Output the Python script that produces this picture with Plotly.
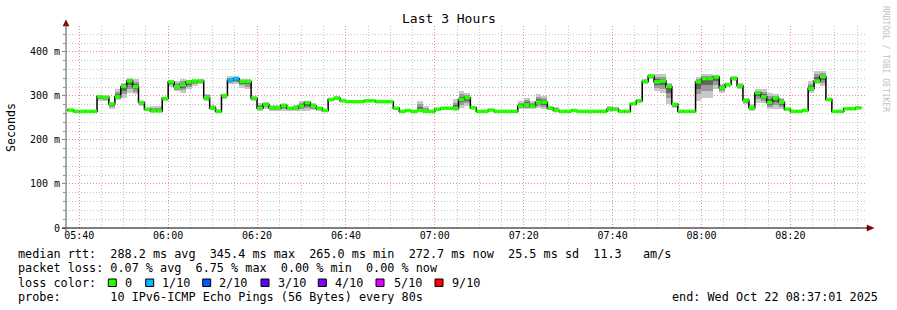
import plotly.graph_objects as go
import pandas as pd

# ---------------- data ----------------
start_time = "2025-10-22 05:37:20"
step_seconds = 80
range_start = "2025-10-22 05:37:01"
range_end = "2025-10-22 08:37:01"

median_ms = [
    268, 265, 265, 265, 265, 298, 297, 282, 298, 321,
    334, 321, 285, 270, 266, 266, 294, 332, 321, 325,
    332, 334, 334, 296, 272, 265, 301, 336, 339, 333,
    333, 295, 272, 281, 273, 273, 279, 272, 272, 277,
    285, 277, 272, 267, 292, 295, 289, 287, 287, 287,
    289, 289, 287, 287, 287, 272, 265, 267, 265, 267,
    265, 265, 270, 272, 272, 272, 292, 296, 273, 265,
    265, 268, 265, 265, 265, 265, 277, 280, 277, 286,
    286, 272, 267, 265, 265, 267, 265, 265, 265, 265,
    265, 270, 270, 265, 265, 282, 289, 333, 345, 332,
    334, 321, 281, 265, 265, 265, 332, 339, 339, 343,
    319, 326, 340, 323, 290, 273, 307, 298, 285, 295,
    286, 270, 265, 265, 267, 317, 334, 344, 292, 265,
    265, 271, 271, 273,
]
smoke_lo_ms = [
    266, 264, 264, 264, 264, 289, 289, 271, 290, 296,
    307, 304, 277, 266, 266, 266, 289, 321, 311, 307,
    315, 323, 327, 289, 270, 263, 294, 327, 327, 319,
    315, 289, 266, 270, 266, 266, 266, 266, 266, 266,
    266, 268, 266, 264, 290, 292, 287, 285, 285, 285,
    287, 287, 285, 285, 285, 270, 263, 265, 263, 264,
    264, 263, 266, 270, 270, 266, 273, 277, 270, 263,
    263, 266, 263, 263, 263, 263, 270, 270, 270, 273,
    270, 268, 266, 263, 263, 264, 263, 263, 263, 263,
    263, 264, 266, 263, 263, 279, 285, 327, 338, 311,
    307, 281, 273, 263, 263, 263, 289, 296, 296, 315,
    307, 321, 334, 315, 281, 266, 285, 285, 270, 270,
    270, 266, 263, 263, 264, 307, 327, 323, 289, 263,
    263, 268, 268, 270,
]
smoke_hi_ms = [
    270, 267, 267, 267, 267, 300, 299, 285, 315, 330,
    340, 338, 289, 273, 277, 277, 296, 336, 334, 339,
    336, 336, 338, 304, 279, 270, 304, 345, 345, 338,
    338, 300, 285, 286, 280, 280, 282, 276, 280, 289,
    289, 283, 276, 270, 296, 299, 293, 289, 289, 289,
    291, 291, 289, 289, 289, 275, 267, 270, 267, 289,
    277, 267, 273, 275, 275, 292, 311, 307, 277, 267,
    267, 270, 267, 267, 267, 267, 289, 296, 289, 304,
    300, 277, 275, 267, 267, 270, 267, 267, 267, 267,
    267, 277, 274, 267, 267, 285, 293, 338, 349, 349,
    349, 330, 285, 267, 267, 267, 342, 349, 349, 347,
    327, 330, 345, 330, 296, 281, 315, 315, 307, 304,
    296, 273, 267, 267, 270, 334, 357, 357, 296, 267,
    267, 274, 274, 277,
]
# steps with packet loss (index -> lost pings out of 10)
lossy_steps = {27: 1, 28: 1}

loss_labels = ["0", "1/10", "2/10", "3/10", "4/10", "5/10", "9/10"]
loss_colors = ["#26ff00", "#00b8ff", "#0059ff", "#5e00ff", "#7e00ff", "#dd00ff", "#ff0000"]

y_tick_vals = [0, 100, 200, 300, 400]
y_tick_text = ["0", "100 m", "200 m", "300 m", "400 m"]

title_text = "Last 3 Hours"
y_title = "Seconds"
stats_lines = [
    "median rtt:  288.2 ms avg  345.4 ms max  265.0 ms min  272.7 ms now  25.5 ms sd  11.3   am/s",
    "packet loss: 0.07 % avg  6.75 % max  0.00 % min  0.00 % now",
    "loss color:",
    "probe:       10 IPv6-ICMP Echo Pings (56 Bytes) every 80s",
]
end_text = "end: Wed Oct 22 08:37:01 2025"
watermark = "RRDTOOL / TOBI OETIKER"

# ---------------- figure ----------------
W, H = 897, 310
ML, MR, MT, MB = 66, 31, 26, 82
PW, PH = W - ML - MR, H - MT - MB
MONO = "DejaVu Sans Mono"


def px(x):
    return (x - ML) / PW


def py(y):
    return (MT + PH - y) / PH


n = len(median_ms)
step = pd.Timedelta(seconds=step_seconds)
t0 = pd.Timestamp(start_time)
starts = [t0 + i * step for i in range(n)]
ends = [s + step for s in starts]
centers = [s + step / 2 for s in starts]
bar_w = step_seconds * 1000

fig = go.Figure()

# smoke layers (lightest = full range, darker toward the median)
for frac, col in [(1.0, "#c8c8c8"), (0.65, "#9a9a9a"), (0.35, "#656565"), (0.12, "#303030")]:
    lo = [m - (m - l) * frac for m, l in zip(median_ms, smoke_lo_ms)]
    hi = [m + (h - m) * frac for m, h in zip(median_ms, smoke_hi_ms)]
    fig.add_trace(go.Bar(
        x=centers, y=[h - l for h, l in zip(hi, lo)], base=lo, width=bar_w,
        marker=dict(color=col, line=dict(width=0)), hoverinfo="skip", showlegend=False,
    ))

# black median step line
fig.add_trace(go.Scatter(
    x=starts + [ends[-1]], y=median_ms + [median_ms[-1]], mode="lines",
    line=dict(color="#000000", width=1.5, shape="hv"), hoverinfo="skip", showlegend=False,
))

# coloured median markers per loss class
for li, col in enumerate(loss_colors):
    xs, ys = [], []
    for i in range(n):
        if lossy_steps.get(i, 0) == li:
            xs += [starts[i], ends[i], None]
            ys += [median_ms[i], median_ms[i], None]
    if xs:
        fig.add_trace(go.Scatter(
            x=xs, y=ys, mode="lines", line=dict(color=col, width=3.5),
            hoverinfo="skip", showlegend=False,
        ))

annotations = []
shapes = []

annotations.append(dict(
    text=title_text, xref="paper", yref="paper", x=px(448.5), y=py(19),
    xanchor="center", yanchor="middle", showarrow=False,
    font=dict(family=MONO, size=13, color="#000000"),
))
annotations.append(dict(
    text=y_title, xref="paper", yref="paper", x=px(11), y=py(127),
    xanchor="center", yanchor="middle", textangle=-90, showarrow=False,
    font=dict(family=MONO, size=11.6, color="#000000"),
))
annotations.append(dict(
    text=watermark, xref="paper", yref="paper", x=px(886), y=py(59),
    xanchor="center", yanchor="middle", textangle=90, showarrow=False,
    font=dict(family=MONO, size=8, color="#c0c0c0"),
))

line_y = [254, 268.3, 282.7, 296.7]
for txt, yy in zip(stats_lines, line_y):
    annotations.append(dict(
        text=txt.replace(" ", "\u00a0"), xref="paper", yref="paper", x=px(16), y=py(yy),
        xanchor="left", yanchor="middle", showarrow=False,
        font=dict(family=MONO, size=11.8, color="#000000"),
    ))

annotations.append(dict(
    text=end_text.replace(" ", "\u00a0"), xref="paper", yref="paper", x=px(880), y=py(296.7),
    xanchor="right", yanchor="middle", showarrow=False,
    font=dict(family=MONO, size=11.8, color="#000000"),
))

box_x = [108.3, 145.7, 202.7, 261, 318.3, 376, 435]
label_x = [123, 160, 217.3, 276, 333.3, 391.7, 450]
for bx, lx, lab, col in zip(box_x, label_x, loss_labels, loss_colors):
    shapes.append(dict(
        type="rect", xref="paper", yref="paper",
        x0=px(bx), x1=px(bx + 8), y0=py(286.5), y1=py(279),
        fillcolor=col, line=dict(color="#000000", width=1),
    ))
    annotations.append(dict(
        text=lab, xref="paper", yref="paper", x=px(lx), y=py(282.7),
        xanchor="left", yanchor="middle", showarrow=False,
        font=dict(family=MONO, size=11.8, color="#000000"),
    ))

# axis arrows
shapes.append(dict(
    type="path", xref="paper", yref="paper",
    path=f"M {px(63)} {py(26)} L {px(69)} {py(26)} L {px(66)} {py(20)} Z",
    fillcolor="#7f0000", line=dict(color="#7f0000", width=0.5),
))
shapes.append(dict(
    type="path", xref="paper", yref="paper",
    path=f"M {px(867)} {py(225)} L {px(867)} {py(231)} L {px(874)} {py(228)} Z",
    fillcolor="#7f0000", line=dict(color="#7f0000", width=0.5),
))
# axis lines
shapes.append(dict(type="line", xref="paper", yref="paper",
                   x0=px(62), x1=px(868), y0=py(228), y1=py(228),
                   line=dict(color="#000000", width=1)))
shapes.append(dict(type="line", xref="paper", yref="paper",
                   x0=px(66), x1=px(66), y0=py(232), y1=py(24),
                   line=dict(color="#555555", width=1)))

fig.update_layout(
    width=W, height=H,
    margin=dict(l=ML, r=MR, t=MT, b=MB, pad=0),
    paper_bgcolor="#ffffff", plot_bgcolor="#ffffff",
    barmode="overlay", bargap=0, showlegend=False,
    annotations=annotations, shapes=shapes,
    font=dict(family=MONO, size=10, color="#000000"),
)
fig.update_xaxes(
    type="date", range=[range_start, range_end],
    tick0="2025-10-22 05:40:00", dtick=20 * 60 * 1000, tickformat="%H:%M",
    showgrid=True, gridcolor="#f08c8c", griddash="1px,2px", gridwidth=1,
    minor=dict(tick0="2025-10-22 05:40:00", dtick=5 * 60 * 1000, showgrid=True,
               gridcolor="#c4c4c4", griddash="1px,2px", gridwidth=1),
    ticks="", showline=False, zeroline=False, fixedrange=True,
    tickfont=dict(family=MONO, size=10, color="#000000"),
)
fig.update_yaxes(
    range=[0, 459], tickvals=y_tick_vals, ticktext=y_tick_text,
    showgrid=True, gridcolor="#f08c8c", griddash="1px,2px", gridwidth=1,
    minor=dict(dtick=20, showgrid=True, gridcolor="#c4c4c4", griddash="1px,2px", gridwidth=1,
               ticks="outside", ticklen=2, tickcolor="#888888"),
    ticks="outside", ticklen=3, tickcolor="#888888",
    showline=False, zeroline=False, fixedrange=True,
    tickfont=dict(family=MONO, size=10, color="#000000"),
)

fig.write_html("out.html")
